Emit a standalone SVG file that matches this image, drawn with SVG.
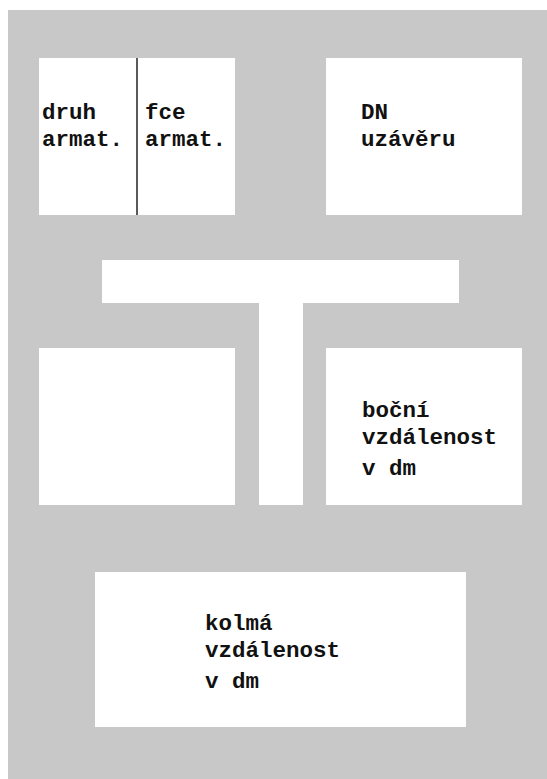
<svg xmlns="http://www.w3.org/2000/svg" width="547" height="779" viewBox="0 0 547 779">
<style>
.box{fill:#ffffff;}
.lbl{font-family:"Liberation Mono","Courier New",monospace;font-weight:bold;font-size:22.5px;fill:#111111;}
</style>
<rect x="0" y="0" width="547" height="779" fill="#ffffff"/>
<rect x="8" y="10" width="539" height="769" fill="#c8c8c8"/>
<g id="druh-armat">
<rect class="box" x="39" y="58" width="98" height="157"/>
<text class="lbl" x="42" y="119">druh</text>
<text class="lbl" x="42" y="146">armat.</text>
</g>
<g id="fce-armat">
<rect class="box" x="137" y="58" width="98" height="157"/>
<text class="lbl" x="145" y="119">fce</text>
<text class="lbl" x="145" y="146">armat.</text>
</g>
<g id="connectors">
<line x1="137" y1="58" x2="137" y2="215" stroke="#5a5a5a" stroke-width="2"/>
</g>
<g id="dn-uzaveru">
<rect class="box" x="326" y="58" width="196" height="157"/>
<text class="lbl" x="361" y="119">DN</text>
<text class="lbl" x="361" y="146">uzávěru</text>
</g>
<g id="t-shape">
<rect class="box" x="102" y="260" width="357" height="43"/>
<rect class="box" x="259" y="302" width="44" height="203"/>
</g>
<g id="left-box">
<rect class="box" x="39" y="348" width="196" height="157"/>
</g>
<g id="bocni-vzdalenost">
<rect class="box" x="326" y="348" width="196" height="157"/>
<text class="lbl" x="362" y="417">boční</text>
<text class="lbl" x="362" y="444">vzdálenost</text>
<text class="lbl" x="362" y="475">v dm</text>
</g>
<g id="kolma-vzdalenost">
<rect class="box" x="95" y="572" width="371" height="155"/>
<text class="lbl" x="205" y="630">kolmá</text>
<text class="lbl" x="205" y="657">vzdálenost</text>
<text class="lbl" x="205" y="688">v dm</text>
</g>
</svg>
